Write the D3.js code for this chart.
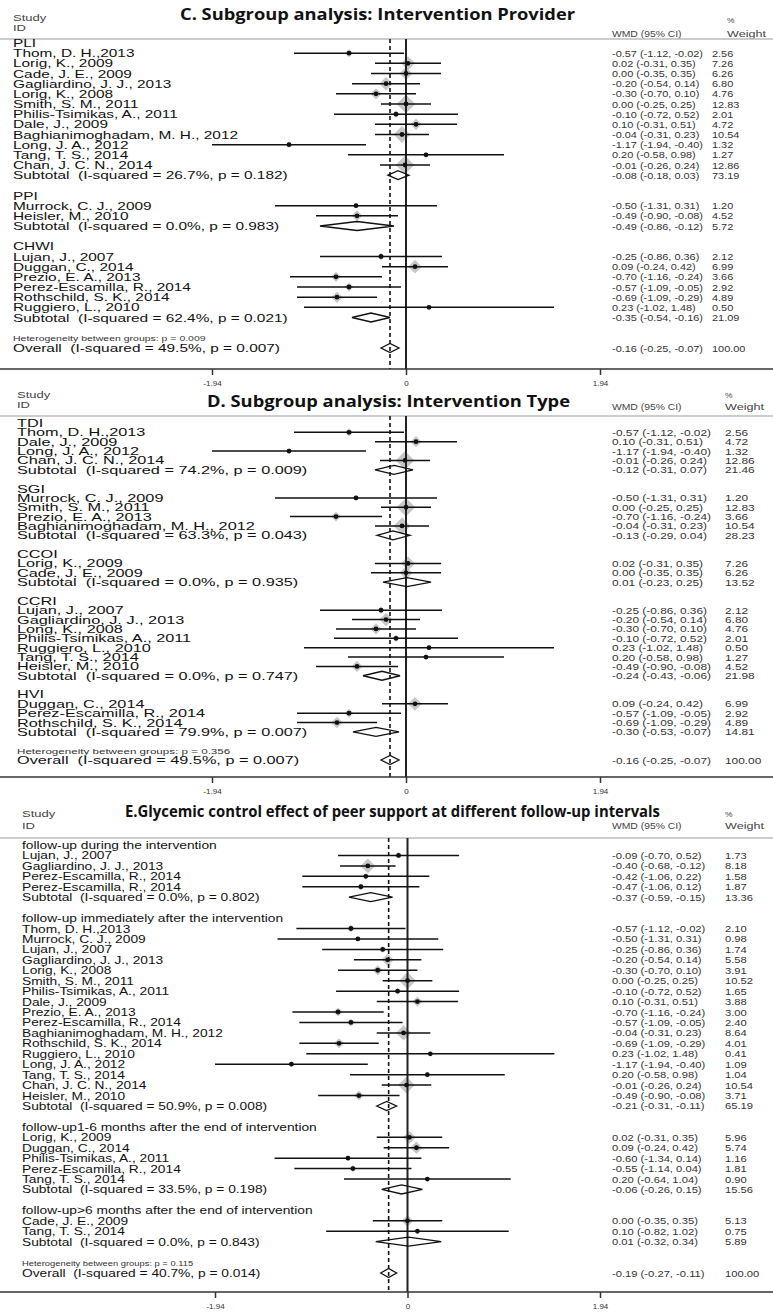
<!DOCTYPE html>
<html>
<head>
<meta charset="utf-8">
<script src="https://cdnjs.cloudflare.com/ajax/libs/d3/7.8.5/d3.min.js"></script>
<style>body{margin:0;background:#fff}</style>
</head>
<body>
<script>
// ---------- data ----------
// study rows: [label, estimate, lower, upper, weight]
// subtotal rows: [I-squared, p, estimate, lower, upper, weight]
const cGroups = ["PLI", "PPI", "CHWI"];
const cStudies = [
  [["Thom, D. H.,2013", -0.57, -1.12, -0.02, 2.56],
   ["Lorig, K., 2009", 0.02, -0.31, 0.35, 7.26],
   ["Cade, J. E., 2009", 0.00, -0.35, 0.35, 6.26],
   ["Gagliardino, J. J., 2013", -0.20, -0.54, 0.14, 6.80],
   ["Lorig, K., 2008", -0.30, -0.70, 0.10, 4.76],
   ["Smith, S. M., 2011", 0.00, -0.25, 0.25, 12.83],
   ["Philis-Tsimikas, A., 2011", -0.10, -0.72, 0.52, 2.01],
   ["Dale, J., 2009", 0.10, -0.31, 0.51, 4.72],
   ["Baghianimoghadam, M. H., 2012", -0.04, -0.31, 0.23, 10.54],
   ["Long, J. A., 2012", -1.17, -1.94, -0.40, 1.32],
   ["Tang, T. S., 2014", 0.20, -0.58, 0.98, 1.27],
   ["Chan, J. C. N., 2014", -0.01, -0.26, 0.24, 12.86]],
  [["Murrock, C. J., 2009", -0.50, -1.31, 0.31, 1.20],
   ["Heisler, M., 2010", -0.49, -0.90, -0.08, 4.52]],
  [["Lujan, J., 2007", -0.25, -0.86, 0.36, 2.12],
   ["Duggan, C., 2014", 0.09, -0.24, 0.42, 6.99],
   ["Prezio, E. A., 2013", -0.70, -1.16, -0.24, 3.66],
   ["Perez-Escamilla, R., 2014", -0.57, -1.09, -0.05, 2.92],
   ["Rothschild, S. K., 2014", -0.69, -1.09, -0.29, 4.89],
   ["Ruggiero, L., 2010", 0.23, -1.02, 1.48, 0.50]]
];
const cSubtotals = [
  ["26.7%", "0.182", -0.08, -0.18, 0.03, 73.19],
  ["0.0%", "0.983", -0.49, -0.86, -0.12, 5.72],
  ["62.4%", "0.021", -0.35, -0.54, -0.16, 21.09]
];
const cHetP = "0.009";
const cOverall = ["49.5%", "0.007", -0.16, -0.25, -0.07, 100.00];

const dGroups = ["TDI", "SGI", "CCOI", "CCRI", "HVI"];
const dStudies = [
  [["Thom, D. H.,2013", -0.57, -1.12, -0.02, 2.56],
   ["Dale, J., 2009", 0.10, -0.31, 0.51, 4.72],
   ["Long, J. A., 2012", -1.17, -1.94, -0.40, 1.32],
   ["Chan, J. C. N., 2014", -0.01, -0.26, 0.24, 12.86]],
  [["Murrock, C. J., 2009", -0.50, -1.31, 0.31, 1.20],
   ["Smith, S. M., 2011", 0.00, -0.25, 0.25, 12.83],
   ["Prezio, E. A., 2013", -0.70, -1.16, -0.24, 3.66],
   ["Baghianimoghadam, M. H., 2012", -0.04, -0.31, 0.23, 10.54]],
  [["Lorig, K., 2009", 0.02, -0.31, 0.35, 7.26],
   ["Cade, J. E., 2009", 0.00, -0.35, 0.35, 6.26]],
  [["Lujan, J., 2007", -0.25, -0.86, 0.36, 2.12],
   ["Gagliardino, J. J., 2013", -0.20, -0.54, 0.14, 6.80],
   ["Long, K., 2008", -0.30, -0.70, 0.10, 4.76],
   ["Philis-Tsimikas, A., 2011", -0.10, -0.72, 0.52, 2.01],
   ["Ruggiero, L., 2010", 0.23, -1.02, 1.48, 0.50],
   ["Tang, T. S., 2014", 0.20, -0.58, 0.98, 1.27],
   ["Heisler, M., 2010", -0.49, -0.90, -0.08, 4.52]],
  [["Duggan, C., 2014", 0.09, -0.24, 0.42, 6.99],
   ["Perez-Escamilla, R., 2014", -0.57, -1.09, -0.05, 2.92],
   ["Rothschild, S. K., 2014", -0.69, -1.09, -0.29, 4.89]]
];
const dSubtotals = [
  ["74.2%", "0.009", -0.12, -0.31, 0.07, 21.46],
  ["63.3%", "0.043", -0.13, -0.29, 0.04, 28.23],
  ["0.0%", "0.935", 0.01, -0.23, 0.25, 13.52],
  ["0.0%", "0.747", -0.24, -0.43, -0.06, 21.98],
  ["79.9%", "0.007", -0.30, -0.53, -0.07, 14.81]
];
const dHetP = "0.356";
const dOverall = ["49.5%", "0.007", -0.16, -0.25, -0.07, 100.00];

const eGroups = [
  "follow-up during the intervention",
  "follow-up immediately after the intervention",
  "follow-up1-6 months after the end of intervention",
  "follow-up>6 months after the end of intervention"
];
const eStudies = [
  [["Lujan, J., 2007", -0.09, -0.70, 0.52, 1.73],
   ["Gagliardino, J. J., 2013", -0.40, -0.68, -0.12, 8.18],
   ["Perez-Escamilla, R., 2014", -0.42, -1.06, 0.22, 1.58],
   ["Perez-Escamilla, R., 2014", -0.47, -1.06, 0.12, 1.87]],
  [["Thom, D. H.,2013", -0.57, -1.12, -0.02, 2.10],
   ["Murrock, C. J., 2009", -0.50, -1.31, 0.31, 0.98],
   ["Lujan, J., 2007", -0.25, -0.86, 0.36, 1.74],
   ["Gagliardino, J. J., 2013", -0.20, -0.54, 0.14, 5.58],
   ["Lorig, K., 2008", -0.30, -0.70, 0.10, 3.91],
   ["Smith, S. M., 2011", 0.00, -0.25, 0.25, 10.52],
   ["Philis-Tsimikas, A., 2011", -0.10, -0.72, 0.52, 1.65],
   ["Dale, J., 2009", 0.10, -0.31, 0.51, 3.88],
   ["Prezio, E. A., 2013", -0.70, -1.16, -0.24, 3.00],
   ["Perez-Escamilla, R., 2014", -0.57, -1.09, -0.05, 2.40],
   ["Baghianimoghadam, M. H., 2012", -0.04, -0.31, 0.23, 8.64],
   ["Rothschild, S. K., 2014", -0.69, -1.09, -0.29, 4.01],
   ["Ruggiero, L., 2010", 0.23, -1.02, 1.48, 0.41],
   ["Long, J. A., 2012", -1.17, -1.94, -0.40, 1.09],
   ["Tang, T. S., 2014", 0.20, -0.58, 0.98, 1.04],
   ["Chan, J. C. N., 2014", -0.01, -0.26, 0.24, 10.54],
   ["Heisler, M., 2010", -0.49, -0.90, -0.08, 3.71]],
  [["Lorig, K., 2009", 0.02, -0.31, 0.35, 5.96],
   ["Duggan, C., 2014", 0.09, -0.24, 0.42, 5.74],
   ["Philis-Tsimikas, A., 2011", -0.60, -1.34, 0.14, 1.16],
   ["Perez-Escamilla, R., 2014", -0.55, -1.14, 0.04, 1.81],
   ["Tang, T. S., 2014", 0.20, -0.64, 1.04, 0.90]],
  [["Cade, J. E., 2009", 0.00, -0.35, 0.35, 5.13],
   ["Tang, T. S., 2014", 0.10, -0.82, 1.02, 0.75]]
];
const eSubtotals = [
  ["0.0%", "0.802", -0.37, -0.59, -0.15, 13.36],
  ["50.9%", "0.008", -0.21, -0.31, -0.11, 65.19],
  ["33.5%", "0.198", -0.06, -0.26, 0.15, 15.56],
  ["0.0%", "0.843", 0.01, -0.32, 0.34, 5.89]
];
const eHetP = "0.115";
const eOverall = ["40.7%", "0.014", -0.19, -0.27, -0.11, 100.00];

const tickValues = [-1.94, 0, 1.94];
const tickLabels = ["-1.94", "0", "1.94"];

// ---------- drawing ----------
const W = 773, H = 1315;
const svg = d3.select("body").append("svg")
  .attr("width", W).attr("height", H)
  .style("font-family", "'Liberation Sans', Arial, sans-serif");

// plain hyphen minus, like the original output
const fmt = d3.formatLocale({decimal: ".", thousands: ",", grouping: [3],
  currency: ["", ""], minus: "-"}).format(".2f");

function addText(g, x, y, str, o) {
  return g.append("text")
    .attr("transform", "translate(" + x + "," + y + ") scale(" + (o.sx || 1) + ",1)")
    .attr("font-size", o.size || 12)
    .attr("font-weight", o.weight || "normal")
    .attr("fill", o.fill || "#111")
    .attr("text-anchor", o.anchor || "start")
    .style("white-space", "pre")
    .text(str);
}

function buildRows(groups, studies, subs, hetP, overall) {
  const rows = [];
  groups.forEach(function(name, i) {
    rows.push({type: "group", label: name});
    studies[i].forEach(function(s) {
      rows.push({type: "study", label: s[0], est: s[1], lo: s[2], hi: s[3], w: s[4]});
    });
    const st = subs[i];
    rows.push({type: "sub", label: "Subtotal  (I-squared = " + st[0] + ", p = " + st[1] + ")",
      est: st[2], lo: st[3], hi: st[4], w: st[5]});
    rows.push({type: "blank"});
  });
  rows.push({type: "het", label: "Heterogeneity between groups: p = " + hetP});
  rows.push({type: "overall", label: "Overall  (I-squared = " + overall[0] + ", p = " + overall[1] + ")",
    est: overall[2], lo: overall[3], hi: overall[4], w: overall[5]});
  rows.forEach(function(r, i) { r.i = i; });
  return rows;
}

function drawPanel(p) {
  const rows = buildRows(p.groups, p.studies, p.subs, p.hetP, p.overall);
  const g = svg.append("g");
  const x = d3.scaleLinear().domain([-1.94, 1.94]).range(p.xr);
  const y = d3.scaleLinear().domain([0, rows.length - 1]).range([p.first, p.last]);

  // title
  g.append("text")
    .attr("x", p.titleX[0]).attr("y", p.titleY)
    .attr("textLength", p.titleX[1] - p.titleX[0])
    .attr("lengthAdjust", "spacingAndGlyphs")
    .attr("font-family", "'Open Sans', sans-serif")
    .attr("font-weight", "bold").attr("font-size", 16.5)
    .attr("fill", "#111")
    .text(p.title);

  // column headers: [Study, ID, %, WMD/Weight]
  addText(g, p.labelX, p.hy[0], "Study", {size: 9, sx: 1.45, fill: "#444"});
  addText(g, p.labelX, p.hy[1], "ID", {size: 9, sx: 1.45, fill: "#444"});
  addText(g, p.wHeadX, p.hy[2], "%", {size: 7, sx: 1.2, fill: "#444"});
  addText(g, p.numX, p.hy[3], "WMD (95% CI)", {size: 9, sx: 1.15, fill: "#444"});
  addText(g, p.wHeadX, p.hy[3], "Weight", {size: 9, sx: 1.4, fill: "#444"});

  g.append("line").attr("x1", 0).attr("x2", W)
    .attr("y1", p.top).attr("y2", p.top)
    .attr("stroke", "#bbb").attr("stroke-width", 1.5);

  // weight boxes
  const studyRows = rows.filter(function(r) { return r.type === "study"; });
  g.selectAll(".box").data(studyRows).enter().append("path")
    .attr("d", function(d) {
      const cx = x(d.est), cy = y(d.i), r = 2.6 * Math.sqrt(d.w);
      return "M" + (cx - r) + "," + cy + "L" + cx + "," + (cy - r) +
        "L" + (cx + r) + "," + cy + "L" + cx + "," + (cy + r) + "Z";
    })
    .attr("fill", "#bdbdbd").attr("opacity", 0.85);

  // reference lines
  g.append("line").attr("x1", x(0)).attr("x2", x(0))
    .attr("y1", p.top).attr("y2", p.axisY)
    .attr("stroke", "#222").attr("stroke-width", 2);
  const ov = rows[rows.length - 1];
  g.append("line").attr("x1", x(ov.est)).attr("x2", x(ov.est))
    .attr("y1", p.top).attr("y2", p.axisY)
    .attr("stroke", "#111").attr("stroke-width", 1.6)
    .attr("stroke-dasharray", "4,3");

  // confidence intervals and point estimates
  g.selectAll(".ci").data(studyRows).enter().append("line")
    .attr("x1", function(d) { return x(d.lo); })
    .attr("x2", function(d) { return x(d.hi); })
    .attr("y1", function(d) { return y(d.i); })
    .attr("y2", function(d) { return y(d.i); })
    .attr("stroke", "#111").attr("stroke-width", 1.5);
  g.selectAll(".dot").data(studyRows).enter().append("circle")
    .attr("cx", function(d) { return x(d.est); })
    .attr("cy", function(d) { return y(d.i); })
    .attr("r", 2.4).attr("fill", "#111");

  // pooled diamonds
  const pooled = rows.filter(function(r) { return r.type === "sub" || r.type === "overall"; });
  g.selectAll(".dia").data(pooled).enter().append("path")
    .attr("d", function(d) {
      const cy = y(d.i);
      return "M" + x(d.lo) + "," + cy + "L" + x(d.est) + "," + (cy - 4.5) +
        "L" + x(d.hi) + "," + cy + "L" + x(d.est) + "," + (cy + 4.5) + "Z";
    })
    .attr("fill", "none").attr("stroke", "#111").attr("stroke-width", 1.3);

  // labels and numbers
  rows.forEach(function(r) {
    if (r.type === "blank") return;
    const yy = y(r.i) + 4;
    if (r.type === "het") {
      addText(g, p.labelX, yy - 0.5, r.label, {size: 7.5, sx: p.lsx, fill: "#333"});
      return;
    }
    addText(g, p.labelX, yy, r.label, {size: p.lsize, sx: p.lsx, fill: "#111"});
    if (r.type === "group") return;
    addText(g, p.numX, yy - 0.5, fmt(r.est) + " (" + fmt(r.lo) + ", " + fmt(r.hi) + ")",
      {size: 9.5, sx: p.nsx, fill: "#333"});
    addText(g, p.wX, yy - 0.5, fmt(r.w), {size: 9.5, sx: p.nsx, fill: "#333"});
  });

  // axis
  g.append("line").attr("x1", 0).attr("x2", W)
    .attr("y1", p.axisY).attr("y2", p.axisY)
    .attr("stroke", "#333").attr("stroke-width", 1.5);
  const axis = d3.axisBottom(x).tickValues(tickValues)
    .tickFormat(function(d, i) { return tickLabels[i]; })
    .tickSize(6).tickPadding(5).tickSizeOuter(0);
  const ag = g.append("g").attr("transform", "translate(0," + p.axisY + ")").call(axis);
  ag.select(".domain").remove();
  ag.selectAll(".tick line").attr("stroke", "#333").attr("stroke-width", 1.5);
  ag.selectAll(".tick text").attr("font-size", 8).attr("fill", "#333")
    .attr("font-family", "'Liberation Sans', Arial, sans-serif");
}

drawPanel({
  groups: cGroups, studies: cStudies, subs: cSubtotals, hetP: cHetP, overall: cOverall,
  title: "C. Subgroup analysis: Intervention Provider", titleX: [180, 575], titleY: 20,
  hy: [21, 31, 23, 37], top: 39, first: 43, last: 348, axisY: 369, xr: [212, 600],
  labelX: 13, lsize: 11, lsx: 1.4, numX: 612, nsx: 1.15, wX: 712, wHeadX: 727
});
drawPanel({
  groups: dGroups, studies: dStudies, subs: dSubtotals, hetP: dHetP, overall: dOverall,
  title: "D. Subgroup analysis: Intervention Type", titleX: [207, 570], titleY: 407,
  hy: [398, 408, 398, 410], top: 416, first: 423, last: 760, axisY: 777, xr: [212, 600],
  labelX: 17, lsize: 10.5, lsx: 1.55, numX: 612, nsx: 1.25, wX: 725, wHeadX: 725
});
drawPanel({
  groups: eGroups, studies: eStudies, subs: eSubtotals, hetP: eHetP, overall: eOverall,
  title: "E.Glycemic control effect of peer support at different follow-up intervals", titleX: [125, 660], titleY: 817,
  hy: [817, 829, 817, 829], top: 838, first: 845, last: 1273, axisY: 1292, xr: [215, 600],
  labelX: 22, lsize: 11, lsx: 1.25, numX: 612, nsx: 1.18, wX: 725, wHeadX: 725
});
</script>
</body>
</html>
